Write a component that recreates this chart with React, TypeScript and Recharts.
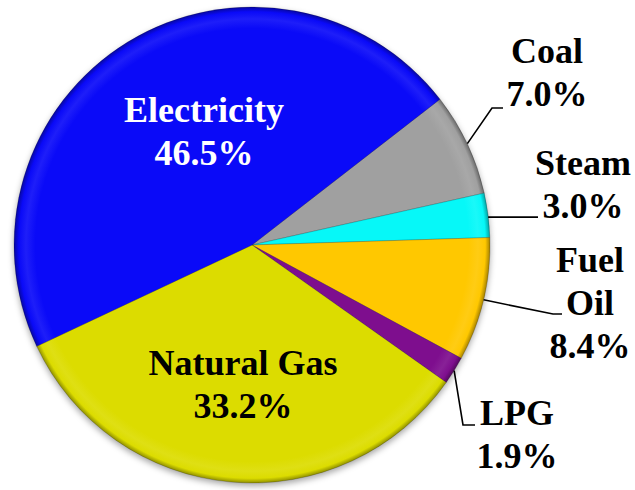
import { PieChart, Pie, Cell } from 'recharts';

const sources = ['Coal', 'Steam', 'Fuel Oil', 'LPG', 'Natural Gas', 'Electricity'];
const shares = [7.0, 3.0, 8.4, 1.9, 33.2, 46.5];
const percentLabels = ['7.0%', '3.0%', '8.4%', '1.9%', '33.2%', '46.5%'];
const colors = ['#A0A0A0', '#06F8F8', '#FFC800', '#7E0E8E', '#DCDC00', '#0A0AF8'];

const data = sources.map((name, i) => ({ name, value: shares[i], pct: percentLabels[i] }));

const WIDTH = 635;
const HEIGHT = 490;
const CX = 252;
const CY = 245;
const R = 238;
const START = 37.8;
const LINE_H = 43;

// label placement relative to the pie centre
type LabelLayout = {
    lines: string[];
    color: string;
    tx: number;
    ty: number;
    leader?: Array<[number, number]>;
    flatLeader?: number; // horizontal leader to this x offset
};

const layout: Record<string, LabelLayout> = {
    Coal: { lines: ['Coal'], color: '#000', tx: 295, ty: -182, leader: [[240, -137], [251, -137]] },
    Steam: { lines: ['Steam'], color: '#000', tx: 331, ty: -70, flatLeader: 286 },
    'Fuel Oil': { lines: ['Fuel', 'Oil'], color: '#000', tx: 338, ty: 27, leader: [[301, 69], [310, 69]] },
    LPG: { lines: ['LPG'], color: '#000', tx: 265, ty: 180, leader: [[211, 180], [223, 180]] },
    'Natural Gas': { lines: ['Natural Gas'], color: '#000', tx: -9, ty: 130 },
    Electricity: { lines: ['Electricity'], color: '#fff', tx: -48, ty: -123 },
};

function shade(hex: string, amt: number) {
    const n = parseInt(hex.slice(1), 16);
    const f = (c: number) => {
        const v = amt >= 0 ? c + (255 - c) * amt : c * (1 + amt);
        return Math.max(0, Math.min(255, Math.round(v)));
    };
    const r = f((n >> 16) & 255);
    const g = f((n >> 8) & 255);
    const b = f(n & 255);
    return `rgb(${r},${g},${b})`;
}

const RAD = Math.PI / 180;

// mid angle of every slice, same convention as the Pie (clockwise from START)
function midAngles() {
    const total = shares.reduce((a, b) => a + b, 0);
    let acc = 0;
    return shares.map((v) => {
        const mid = START - (360 * (acc + v / 2)) / total;
        acc += v;
        return mid;
    });
}

function Labels() {
    const mids = midAngles();
    return (
        <svg
            width={WIDTH}
            height={HEIGHT}
            style={{ position: 'absolute', left: 0, top: 0, pointerEvents: 'none' }}
        >
            {data.map((d, index) => {
                const l = layout[d.name];
                const textLines = [...l.lines, d.pct];
                const ex = CX + R * Math.cos(-mids[index] * RAD);
                const ey = CY + R * Math.sin(-mids[index] * RAD);
                let pts: string | null = null;
                if (l.leader) {
                    pts = [[ex, ey], ...l.leader.map(([x, y]) => [CX + x, CY + y])]
                        .map((p) => p.join(','))
                        .join(' ');
                } else if (l.flatLeader !== undefined) {
                    pts = `${ex},${ey + 2} ${CX + l.flatLeader},${ey + 2}`;
                }
                return (
                    <g key={d.name}>
                        {pts && <polyline points={pts} fill="none" stroke="#000" strokeWidth={1.6} />}
                        {textLines.map((t, j) => (
                            <text
                                key={j}
                                x={CX + l.tx}
                                y={CY + l.ty + j * LINE_H}
                                textAnchor="middle"
                                fill={l.color}
                                style={{ fontFamily: '"Liberation Serif"', fontWeight: 700, fontSize: 36 }}
                            >
                                {t}
                            </text>
                        ))}
                    </g>
                );
            })}
        </svg>
    );
}

export default function App() {
    return (
        <div style={{ position: 'absolute', left: 0, top: 0, width: WIDTH, height: HEIGHT, background: '#fff' }}>
            <PieChart width={WIDTH} height={HEIGHT} margin={{ top: 0, right: 0, bottom: 0, left: 0 }}>
                <defs>
                    <filter id="pieShadow" x="-20%" y="-20%" width="140%" height="140%">
                        <feGaussianBlur stdDeviation="3" />
                    </filter>
                    {colors.map((c, i) => (
                        <radialGradient
                            key={i}
                            id={`grad-${i}`}
                            gradientUnits="userSpaceOnUse"
                            cx={CX}
                            cy={CY}
                            r={R}
                        >
                            <stop offset="0%" stopColor={c} />
                            <stop offset="91%" stopColor={c} />
                            <stop offset="95%" stopColor={shade(c, 0.08)} />
                            <stop offset="98%" stopColor={c} />
                            <stop offset="100%" stopColor={shade(c, -0.35)} />
                        </radialGradient>
                    ))}
                </defs>
                {/* soft shadow under the pie */}
                <Pie
                    data={data}
                    dataKey="value"
                    cx={CX}
                    cy={CY + 3}
                    outerRadius={R}
                    startAngle={START}
                    endAngle={START - 360}
                    fill="rgba(0,0,0,0.35)"
                    stroke="none"
                    style={{ filter: 'url(#pieShadow)' }}
                    isAnimationActive={false}
                    legendType="none"
                />
                <Pie
                    data={data}
                    dataKey="value"
                    nameKey="name"
                    cx={CX}
                    cy={CY}
                    outerRadius={R}
                    startAngle={START}
                    endAngle={START - 360}
                    stroke="rgba(0,0,0,0.18)"
                    strokeWidth={1}
                    isAnimationActive={false}
                >
                    {data.map((d, i) => (
                        <Cell key={d.name} fill={`url(#grad-${i})`} />
                    ))}
                </Pie>
            </PieChart>
            <Labels />
        </div>
    );
}
